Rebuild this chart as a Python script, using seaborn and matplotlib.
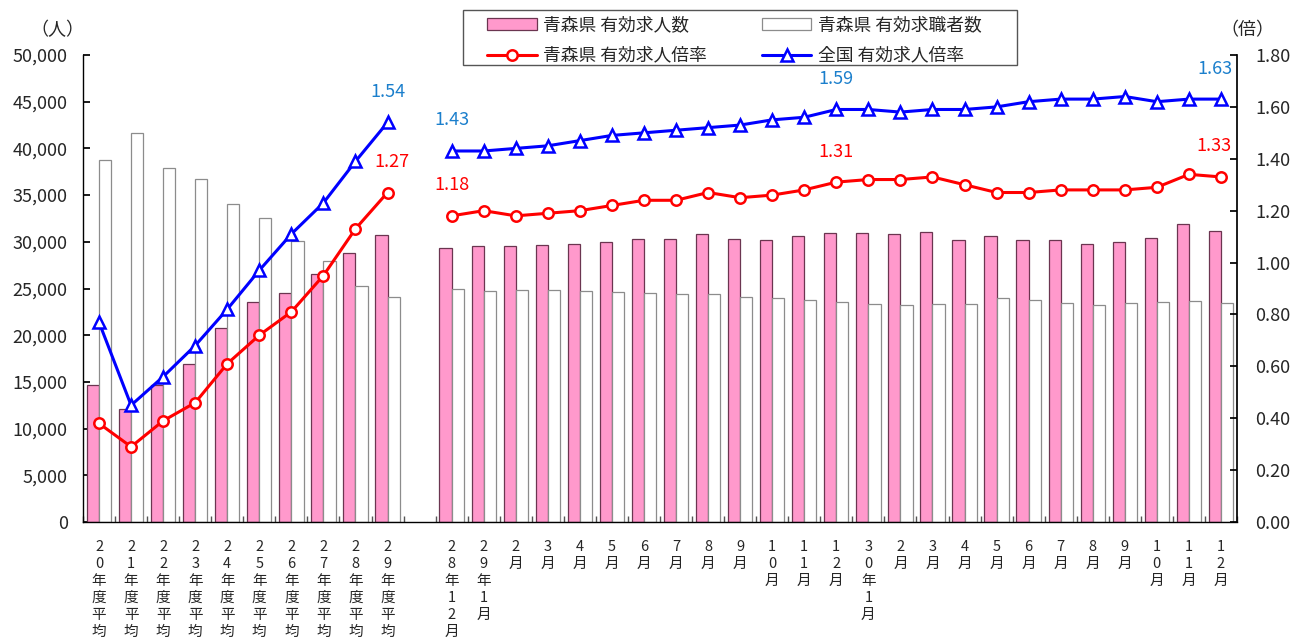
import numpy as np
import pandas as pd
import matplotlib
matplotlib.use("Agg")
import matplotlib.pyplot as plt
import seaborn as sns
from matplotlib.lines import Line2D
from matplotlib.patches import Patch, Rectangle
from matplotlib.ticker import FuncFormatter, FixedLocator

# ---------------- data ----------------
annual_labels = ["20年度平均", "21年度平均", "22年度平均", "23年度平均", "24年度平均",
                 "25年度平均", "26年度平均", "27年度平均", "28年度平均", "29年度平均"]
monthly_labels = ["28年12月", "29年1月", "2月", "3月", "4月", "5月", "6月", "7月", "8月",
                  "9月", "10月", "11月", "12月", "30年1月", "2月", "3月", "4月", "5月",
                  "6月", "7月", "8月", "9月", "10月", "11月", "12月"]

annual_openings = [14700, 12100, 14700, 16900, 20800, 23600, 24500, 26500, 28800, 30700]
annual_seekers = [38800, 41700, 37900, 36700, 34000, 32500, 30100, 27900, 25300, 24100]
annual_aomori_ratio = [0.38, 0.29, 0.39, 0.46, 0.61, 0.72, 0.81, 0.95, 1.13, 1.27]
annual_national_ratio = [0.77, 0.45, 0.56, 0.68, 0.82, 0.97, 1.11, 1.23, 1.39, 1.54]

monthly_openings = [29300, 29500, 29500, 29700, 29800, 30000, 30300, 30300, 30800, 30300,
                    30200, 30600, 30900, 30900, 30800, 31000, 30200, 30600, 30200, 30200,
                    29800, 30000, 30400, 31900, 31200]
monthly_seekers = [24900, 24700, 24800, 24800, 24700, 24600, 24500, 24400, 24400, 24100,
                   24000, 23800, 23600, 23300, 23200, 23300, 23300, 24000, 23800, 23500,
                   23200, 23400, 23600, 23700, 23400]
monthly_aomori_ratio = [1.18, 1.20, 1.18, 1.19, 1.20, 1.22, 1.24, 1.24, 1.27, 1.25, 1.26,
                        1.28, 1.31, 1.32, 1.32, 1.33, 1.30, 1.27, 1.27, 1.28, 1.28, 1.28,
                        1.29, 1.34, 1.33]
monthly_national_ratio = [1.43, 1.43, 1.44, 1.45, 1.47, 1.49, 1.50, 1.51, 1.52, 1.53, 1.55,
                          1.56, 1.59, 1.59, 1.58, 1.59, 1.59, 1.60, 1.62, 1.63, 1.63, 1.64,
                          1.62, 1.63, 1.63]

series_names = ["青森県 有効求人数", "青森県 有効求職者数", "青森県 有効求人倍率", "全国 有効求人倍率"]

# ---------------- style ----------------
sns.set_theme(style="ticks")
plt.rcParams["font.family"] = ["Noto Sans CJK JP", "DejaVu Sans"]

PINK = "#FF99CC"
PINK_EDGE = "#6B3550"
WHITE_EDGE = "#8C8C8C"
RED = "#FF0000"
BLUE = "#0000FF"
BLUE_LABEL = "#1B7FCC"

W, H = 1291, 639

# positions: annual block, one empty slot, monthly block
pos_annual = np.arange(len(annual_labels))
pos_monthly = np.arange(len(monthly_labels)) + len(annual_labels) + 1
positions = np.concatenate([pos_annual, pos_monthly])
labels = annual_labels + monthly_labels

bars = pd.DataFrame({
    "pos": np.concatenate([positions, positions]),
    "value": annual_openings + monthly_openings + annual_seekers + monthly_seekers,
    "series": [series_names[0]] * len(positions) + [series_names[1]] * len(positions),
})

lines_aomori = pd.DataFrame({
    "pos": positions,
    "ratio": annual_aomori_ratio + monthly_aomori_ratio,
    "seg": ["a"] * len(pos_annual) + ["m"] * len(pos_monthly),
})
lines_national = pd.DataFrame({
    "pos": positions,
    "ratio": annual_national_ratio + monthly_national_ratio,
    "seg": ["a"] * len(pos_annual) + ["m"] * len(pos_monthly),
})

fig = plt.figure(figsize=(W / 100, H / 100), dpi=100)
ax = fig.add_axes([83 / W, 1 - 522 / H, (1237 - 83) / W, (522 - 55) / H])

sns.barplot(data=bars, x="pos", y="value", hue="series", hue_order=series_names[:2],
            palette={series_names[0]: PINK, series_names[1]: "white"},
            native_scale=True, width=0.76, dodge=True, errorbar=None,
            legend=False, ax=ax, saturation=1)
for cont, ec in zip(ax.containers, [PINK_EDGE, WHITE_EDGE]):
    for p in cont:
        p.set_edgecolor(ec)
        p.set_linewidth(0.9)

ax.set_xlim(-0.5, positions[-1] + 0.5)
ax.set_ylim(0, 50000)
ax.set_yticks(np.arange(0, 50001, 5000))
ax.yaxis.set_major_formatter(FuncFormatter(lambda v, _: f"{int(v):,}"))
ax.set_xlabel("")
ax.set_ylabel("")

ax.xaxis.set_major_locator(FixedLocator(positions))
ax.set_xticklabels(["\n".join(list(s)) for s in labels], fontsize=10.5,
                   linespacing=1.27, va="top")
ax.xaxis.set_minor_locator(FixedLocator(np.arange(-0.5, positions[-1] + 1, 1.0)))
ax.tick_params(axis="x", which="major", length=0, pad=13)
ax.tick_params(axis="x", which="minor", length=4, direction="in", color="#555555")
ax.tick_params(axis="y", direction="in", length=5, labelsize=13, pad=11, color="black")
for s in ["top", "right"]:
    ax.spines[s].set_visible(False)
for s in ["left", "bottom"]:
    ax.spines[s].set_color("black")
    ax.spines[s].set_linewidth(1.0)

# ---------------- lines ----------------
ax2 = ax.twinx()
sns.lineplot(data=lines_aomori, x="pos", y="ratio", units="seg", estimator=None,
             color=RED, marker="o", markersize=7.5, markerfacecolor="white",
             markeredgecolor=RED, markeredgewidth=1.8, linewidth=2.2, ax=ax2)
sns.lineplot(data=lines_national, x="pos", y="ratio", units="seg", estimator=None,
             color=BLUE, marker="^", markersize=8, markerfacecolor="white",
             markeredgecolor=BLUE, markeredgewidth=1.8, linewidth=2.2, ax=ax2)
ax2.set_ylim(0, 1.8)
ax2.set_yticks(np.arange(0, 1.81, 0.2))
ax2.yaxis.set_major_formatter(FuncFormatter(lambda v, _: f"{v:.2f}"))
ax2.set_xlabel("")
ax2.set_ylabel("")
ax2.tick_params(axis="y", direction="in", length=5, labelsize=13, pad=13, color="black")
for s in ["top", "left", "bottom"]:
    ax2.spines[s].set_visible(False)
ax2.spines["right"].set_color("black")
ax2.set_xlim(ax.get_xlim())

# data labels
def label(series_pos, series_vals, idx, color, dx=0):
    ax2.annotate(f"{series_vals[idx]:.2f}", (series_pos[idx], series_vals[idx]),
                 xytext=(dx, 22), textcoords="offset points", ha="center", va="center",
                 color=color, fontsize=13)

label(pos_annual, annual_national_ratio, -1, BLUE_LABEL)
label(pos_annual, annual_aomori_ratio, -1, RED, dx=3)
for i in [0, 12, 24]:
    label(pos_monthly, monthly_national_ratio, i, BLUE_LABEL, dx=-4 if i == 24 else 0)
    label(pos_monthly, monthly_aomori_ratio, i, RED, dx=-5 if i == 24 else 0)

# unit labels
fig.text(57 / W, 1 - 30 / H, "（人）", ha="center", va="center", fontsize=13)
fig.text(1247 / W, 1 - 30 / H, "（倍）", ha="center", va="center", fontsize=13)

# legend (box drawn separately to match its padding)
fig.patches.append(Rectangle((463 / W, 1 - 65 / H), (1017 - 463) / W, 55 / H,
                             transform=fig.transFigure, facecolor="white",
                             edgecolor="#555555", linewidth=1.0, zorder=5))
handles = [
    Patch(facecolor=PINK, edgecolor=PINK_EDGE, linewidth=0.9),
    Patch(facecolor="white", edgecolor=WHITE_EDGE, linewidth=0.9),
    Line2D([0], [0], color=RED, lw=2.2, marker="o", ms=7.5, mfc="white", mec=RED, mew=1.8),
    Line2D([0], [0], color=BLUE, lw=2.2, marker="^", ms=8, mfc="white", mec=BLUE, mew=1.8),
]
order = [0, 2, 1, 3]
leg = fig.legend([handles[i] for i in order], [series_names[i] for i in order],
                 ncol=2, loc="upper left",
                 bbox_to_anchor=(487 / W, 1 - 16 / H),
                 frameon=False, fontsize=12.8, handlelength=2.8, handleheight=0.7,
                 borderaxespad=0, borderpad=0, labelspacing=0.72,
                 handletextpad=0.34, columnspacing=3.1)
leg.set_zorder(6)

fig.savefig("out.png", dpi=100, facecolor="white")
